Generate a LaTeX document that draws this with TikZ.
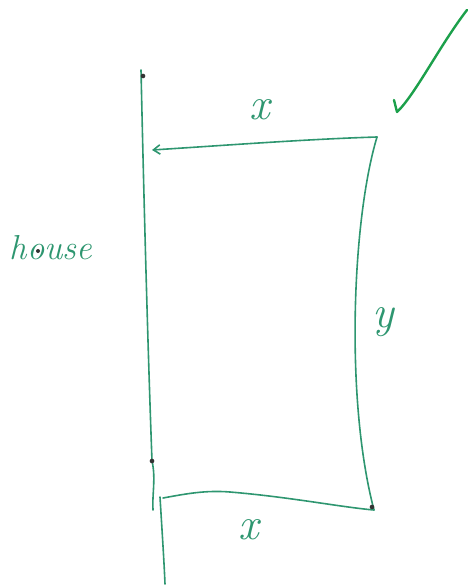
\documentclass[tikz,border=0pt]{standalone}
\usetikzlibrary{arrows.meta}
\definecolor{pen}{RGB}{46,150,112}
\definecolor{tick}{RGB}{28,160,75}
\tikzset{
  stroke/.style={draw=pen, line width=1.2pt, line cap=round, line join=round},
  lbl/.style={text=pen, font=\itshape\fontsize{34}{36}\selectfont, inner sep=0pt},
  pt/.style={circle, fill=black!80, inner sep=0pt, minimum size=3.5pt}
}
\begin{document}
\begin{tikzpicture}[x=0.75pt,y=-0.75pt]
\useasboundingbox (0,0) rectangle (469,586);
% coordinates
\coordinate (hTop) at (141,70);
\coordinate (hMid) at (152,461);
\coordinate (hEnd) at (153,510);
\coordinate (hLow) at (160,497);
\coordinate (hBot) at (165,584);
\coordinate (tr) at (377,137);
\coordinate (tl) at (152,150);
\coordinate (br) at (374,510);
\coordinate (bl) at (163,498);
% house wall
\draw[stroke] (hTop) .. controls (145,250) and (149,380) .. (hMid) .. controls (156,478) and (152,495) .. (hEnd);
\draw[stroke] (hLow) .. controls (162,530) and (164,560) .. (hBot);
% fence
\draw[stroke, -{Straight Barb[length=5pt,width=7pt]}] (tr) .. controls (310,139) and (230,145) .. (tl);
\draw[stroke] (tr) .. controls (352,220) and (345,400) .. (br);
\draw[stroke] (bl) .. controls (185,494) and (205,490) .. (230,492) .. controls (290,497) and (340,507) .. (br);
% dots
\node[pt] (d1) at (143,76) {};
\node[pt] (d2) at (152,461) {};
\node[pt] (d3) at (372,507) {};
% labels
\node[lbl] (xtop) at (260,110) {x};
\node[lbl] (ylab) at (383,322) {y};
\node[lbl] (xbot) at (249,530) {x};
\node[lbl, font=\itshape\fontsize{26}{28}\selectfont] (house) at (51,248) {house};
\node[pt, minimum size=3pt] (d4) at (38,251) {};
% tick
\coordinate (c1) at (394,100);
\coordinate (c2) at (397,112);
\coordinate (c3) at (467,10);
\draw[draw=tick, line width=1.8pt, line cap=round, line join=round] (c1) -- (c2) .. controls (415,95) and (440,45) .. (c3);
\end{tikzpicture}
\end{document}
